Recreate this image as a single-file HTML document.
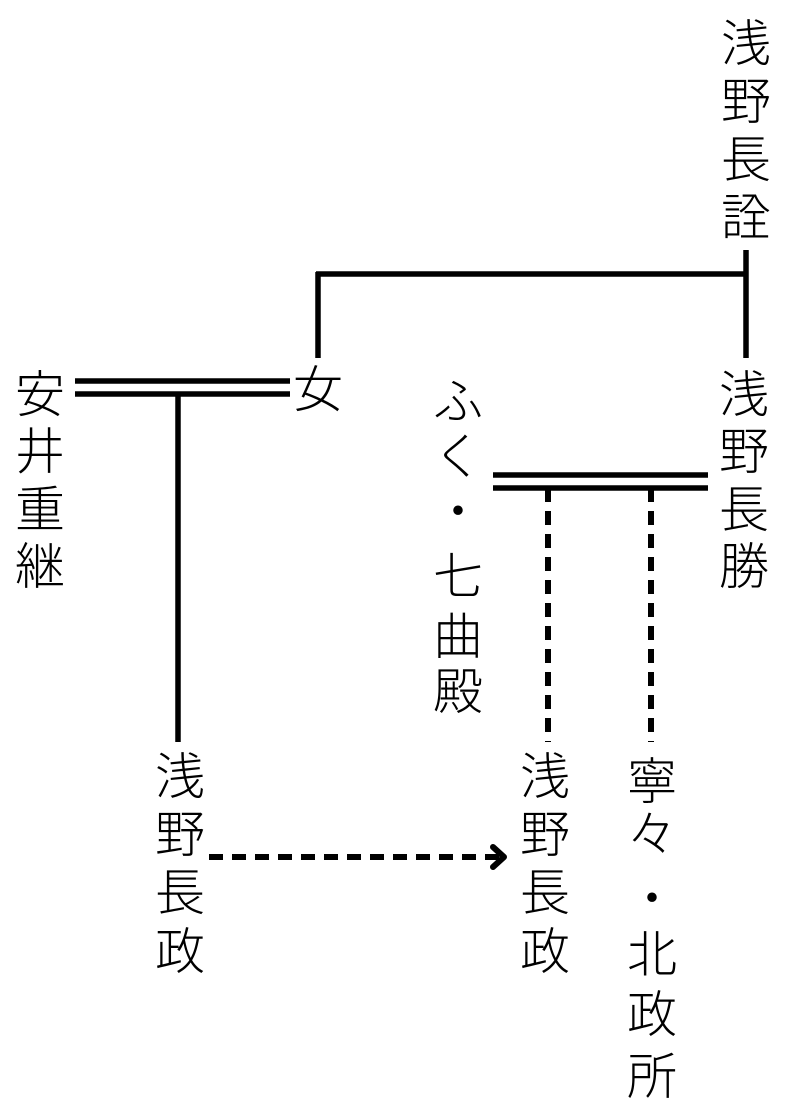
<!DOCTYPE html>
<html><head><meta charset="utf-8"><style>
html,body{margin:0;padding:0;background:#fff;}
svg{display:block}
text{font-family:"Liberation Sans","Noto Sans CJK JP",sans-serif;font-size:50px;font-weight:200;fill:#000;text-anchor:middle;}
</style></head><body>
<svg width="794" height="1112" viewBox="0 0 794 1112" xmlns="http://www.w3.org/2000/svg">
<g stroke="#000" stroke-width="5.5" fill="none">
<line x1="746" y1="250" x2="746" y2="358"/>
<line x1="316" y1="274" x2="746" y2="274"/>
<line x1="318" y1="272" x2="318" y2="358"/>
<line x1="75" y1="381" x2="290" y2="381"/>
<line x1="75" y1="394" x2="290" y2="394"/>
<line x1="178" y1="394" x2="178" y2="742"/>
<line x1="493" y1="475" x2="708" y2="475"/>
<line x1="493" y1="488" x2="708" y2="488"/>
<line x1="548" y1="488" x2="548" y2="742" stroke-dasharray="14,9" stroke-width="6"/>
<line x1="651" y1="488" x2="651" y2="742" stroke-dasharray="14,9" stroke-width="6"/>
<line x1="209" y1="857" x2="502" y2="857" stroke-dasharray="14,9" stroke-width="6"/>
<polyline points="493,847 504,857 493,867" stroke-width="6" stroke-linecap="round" stroke-linejoin="round"/>
</g>
<g>
<text x="746" y="61">浅</text><text x="746" y="119">野</text><text x="746" y="177">長</text><text x="746" y="235">詮</text>
<text x="318" y="407">女</text>
<text x="40" y="412">安</text><text x="40" y="469">井</text><text x="40" y="527">重</text><text x="40" y="584">継</text>
<text x="744" y="412">浅</text><text x="744" y="469">野</text><text x="744" y="527">長</text><text x="744" y="584">勝</text>
<text x="458" y="419">ふ</text><text x="458" y="474">く</text><text x="458" y="529">・</text><text x="458" y="594">七</text><text x="458" y="654">曲</text><text x="458" y="709">殿</text>
<text x="180" y="794">浅</text><text x="180" y="852">野</text><text x="180" y="910">長</text><text x="180" y="969">政</text>
<text x="545" y="794">浅</text><text x="545" y="852">野</text><text x="545" y="910">長</text><text x="545" y="969">政</text>
<text x="652" y="799">寧</text><text x="652" y="852">々</text><text x="652" y="916">・</text><text x="652" y="972">北</text><text x="652" y="1032">政</text><text x="652" y="1094">所</text>
</g>
</svg>
</body></html>
